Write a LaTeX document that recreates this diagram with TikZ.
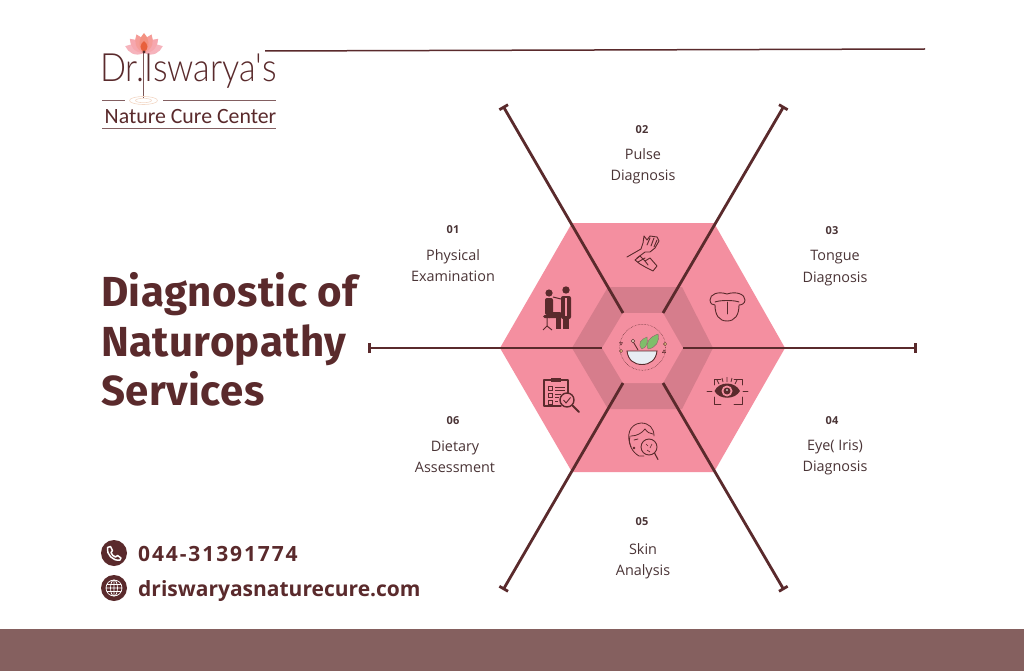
\documentclass[tikz,border=0pt]{standalone}
\usepackage{fontspec}
\usetikzlibrary{arrows.meta}
\setmainfont{Open Sans}
\newfontfamily\headfont[LetterSpace=1]{Fira Sans}
\newfontfamily\logofont{Lato Light}
\newfontfamily\logotwo{Carlito}
\newfontfamily\contfont{Open Sans}
\newfontfamily\contdig[LetterSpace=9]{Open Sans}
\definecolor{ink}{HTML}{5A2A2C}
\definecolor{hexout}{HTML}{F48FA0}
\definecolor{hexmid}{HTML}{D67D8C}
\definecolor{band}{HTML}{85605F}
\definecolor{labelc}{HTML}{4A3436}
\definecolor{pa}{HTML}{F6B3BC}
\definecolor{pb}{HTML}{F6A7AE}
\definecolor{pc}{HTML}{F59C98}
\definecolor{pd}{HTML}{F39180}
\definecolor{pe}{HTML}{E8603C}
\definecolor{rip}{HTML}{F3D9C8}
\definecolor{bowlc}{HTML}{E8EDF3}
\definecolor{ped}{HTML}{F8D8C8}
\definecolor{leaf}{HTML}{7FBE6A}
\definecolor{gold}{HTML}{F6D08A}
\tikzset{
  x=1pt,y=-1pt,
  spoke/.style={draw=ink,line width=2.8pt,{Bar[width=10pt,length=2.5pt]}-},
  lab/.style={align=center,font=\fontsize{14.4}{21.3}\selectfont,text=labelc,inner sep=0pt},
  num/.style={font=\bfseries\fontsize{11}{13}\selectfont,text=labelc,inner sep=0pt},
  head/.style={font=\headfont\bfseries\fontsize{42}{50}\selectfont,text=ink,anchor=base west,inner sep=0pt},
  contact/.style={font=\bfseries\fontsize{21}{25}\selectfont,text=ink,anchor=base west,inner sep=0pt},
  ico/.style={draw=ink,line width=0.9pt,line cap=round,line join=round},
  dot/.style={circle,fill=ink,inner sep=0pt,minimum size=26pt},
}
\begin{document}
\begin{tikzpicture}
\useasboundingbox (0,0) rectangle (1024,671);
\fill[white] (0,0) rectangle (1024,671);
\fill[band] (0,629) rectangle (1024,671);
% top rule
\draw[ink,line width=1.5pt] (265,51) -- (925,49);
% hexagons
\fill[hexout] (500,348) -- (572,223) -- (714,223) -- (785,348) -- (714,472) -- (572,472) -- cycle;
\fill[hexmid] (572,348) -- (608,287) -- (682,287) -- (713,348) -- (682,409) -- (608,409) -- cycle;
\fill[hexout] (602,348) -- (623,313) -- (663,313) -- (683,348) -- (663,383) -- (623,383) -- cycle;
% spokes
\coordinate (c1) at (602,348); \coordinate (e1) at (368,348);
\coordinate (c2) at (623,313); \coordinate (e2) at (503,106);
\coordinate (c3) at (663,313); \coordinate (e3) at (784,106);
\coordinate (c4) at (683,348); \coordinate (e4) at (917,348);
\coordinate (c5) at (663,383); \coordinate (e5) at (784,590);
\coordinate (c6) at (623,383); \coordinate (e6) at (503,590);
\foreach \i in {1,...,6} \draw[spoke] (e\i) -- (c\i);
% labels
\node[num] (n1) at (453,230) {01};
\node[lab] (l1) at (453,265.5) {Physical\\Examination};
\node[num] (n2) at (642,130) {02};
\node[lab] (l2) at (643,166.5) {Pulse\\Diagnosis};
\node[num] (n3) at (832,231) {03};
\node[lab] (l3) at (835,268) {Tongue\\Diagnosis};
\node[num] (n4) at (832,421) {04};
\node[lab] (l4) at (835,457.5) {Eye( Iris)\\Diagnosis};
\node[num] (n5) at (642,522) {05};
\node[lab] (l5) at (643,561.5) {Skin\\Analysis};
\node[num] (n6) at (453,421) {06};
\node[lab] (l6) at (455,457) {Dietary\\Assessment};
% heading
\node[head] (h1) at (101,306.5) {Diagnostic of};
\node[head] (h2) at (101,356.5) {Naturopathy};
\node[head] (h3) at (101,405.5) {Services};
% contact
\node[dot] (d1) at (114,553) {};
\node[dot] (d2) at (114,588) {};
\node[contact] (t1) at (138,561) {\contdig 044-31391774};
\node[contact] (t2) at (138,596) {\contfont driswaryasnaturecure.com};
% phone glyph
\draw[white,line width=1.5pt,line cap=round,line join=round,fill=ink] (107.5,547.5) -- (110.5,546.5) -- (112.5,550.5) -- (111,552.5) .. controls (112,555) and (113,556) .. (115.5,557) -- (117.5,555.5) -- (121,558) -- (120,560) .. controls (113,561.5) and (106,554) .. (107.5,547.5) -- cycle;
\draw[white,line width=0.7pt] (114,588) circle (8) (106,588) -- (122,588) (107,584.5) -- (121,584.5) (107,591.5) -- (121,591.5) (114,580) -- (114,596);
\draw[white,line width=0.7pt] (114,588) ellipse (3.5 and 8);
% logo
\foreach \a/\c in {-70/pa,70/pa,-45/pb,45/pb,-22/pc,22/pc,0/pd}
  \fill[\c,rotate around={\a:(144,53)}] (144,53) .. controls (137,46) and (139,38) .. (144,33) .. controls (149,38) and (151,46) .. (144,53) -- cycle;
\fill[pe] (144,52) .. controls (139,49) and (140,44) .. (144,41) .. controls (148,44) and (149,49) .. (144,52) -- cycle;
\draw[ink!80,line width=0.8pt] (143.5,52) -- (143.5,98);
\fill[ink] (144,52) circle (1.6);
\draw[rip,line width=0.6pt] (143.5,100.5) ellipse (14 and 4) (143.5,100.5) ellipse (8 and 2.2);
\node[inner sep=0pt,anchor=base west,text=ink,xscale=0.88] (logoa) at (100,82) {\logofont\fontsize{39}{40}\selectfont Dr.Iswarya's};
\draw[ink!75,line width=1pt] (102,101) -- (125,101) (163,101) -- (276,101) (102,129) -- (276,129);
\node[inner sep=0pt,anchor=base west,text=ink] (logob) at (104.5,124) {\logotwo\fontsize{21.8}{24}\selectfont Nature Cure Center};
% --- people icon
\fill[ink] (549,293) circle (3.6) (566,290) circle (3.7);
\fill[ink,rounded corners=2pt] (545,298) rectangle (553,315);
\fill[ink,rounded corners=1pt] (548,312) rectangle (561,318);
\fill[ink] (556,314) rectangle (561,329);
\fill[ink,rounded corners=1.5pt] (543,315) rectangle (551,318);
\draw[ink,line width=1pt] (547,318) -- (547,326) (543,330) -- (547,326) -- (552,330);
\draw[ink,line width=1pt] (553,297) -- (561,299);
\fill[ink,rounded corners=2pt] (561,296) rectangle (571,319);
\fill[hexout] (564.5,298) rectangle (567,316);
\fill[ink] (562.5,317) rectangle (568.5,329);
% --- hands icon
\draw[ico] (627,257) -- (641,249) -- (643,243) -- (644,236) -- (647,240) -- (650,236) -- (657,237) -- (659,241) -- (655,248) -- (650,252) -- (645,252) -- (637,258);
\draw[ico] (650,238) -- (647,245) (654,238) -- (651,246) (657,240) -- (654,247);
\draw[ico] (635,260) -- (640,256) -- (645,261) -- (650,258) -- (657,266) -- (653,271) -- (647,268) -- (640,264) -- cycle;
\draw[ico] (638,262) -- (645,258) (645,261) -- (648,265);
% --- tongue icon
\draw[ico] (710,300) .. controls (710,294) and (718,291) .. (727,294) .. controls (736,291) and (745,294) .. (745,300) .. controls (745,304) and (741,305) .. (739,305)  .. controls (739,315) and (735,321) .. (727,321) .. controls (719,321) and (715,315) .. (715,305) .. controls (713,305) and (710,304) .. (710,300) -- cycle;
\draw[ico] (715,302) .. controls (720,300) and (734,300) .. (739,302);
\draw[ico] (727,302) -- (727,314);
% --- eye icon
\draw[ico] (714,385) -- (714,379) -- (721,379) (734,379) -- (742,379) -- (742,385) (714,397) -- (714,404) -- (721,404) (734,404) -- (742,404) -- (742,397) (707,391) -- (712,391) (743,391) -- (748,391);
\fill[ink] (714.5,391) .. controls (719,381) and (735,381) .. (740,391) .. controls (735,400) and (719,400) .. (714.5,391) -- cycle;
\fill[hexout] (727,391) circle (5.5);
\fill[ink] (727,391) circle (3.5);
\fill[white] (727,390) circle (0.9);
\draw[ink,line width=0.8pt] (719,384) -- (717,380) (723,382) -- (722,378) (727,382) -- (727,377) (731,382) -- (732,378) (735,384) -- (737,380);
% --- clipboard icon
\draw[ico,line width=1.2pt] (561,406) -- (544,406) -- (544,380) -- (568,380) -- (568,393);
\fill[ink] (551,377.5) rectangle (561,382);
\draw[ink,line width=1pt] (548,386) rectangle (552,390) (548,393) rectangle (552,397) (548,400) rectangle (552,404);
\draw[ink,line width=1pt] (555,387) -- (565,387) (555,390) -- (565,390) (555,394) -- (561,394) (555,397) -- (559,397) (555,401) -- (558,401);
\draw[ink,line width=1.4pt] (567,400) circle (7);
\draw[ink,line width=0.9pt] (563.5,400) -- (566,403) -- (570.5,397.5);
\draw[ink,line width=2pt,line cap=round] (572.5,405.5) -- (579,412);
% --- face icon
\draw[ico,line width=0.8pt] (631,447) .. controls (626,436) and (629,424) .. (641,423) .. controls (649,423) and (654,428) .. (654,436);
\draw[ico,line width=0.8pt] (631,436) .. controls (637,436) and (642,433) .. (645,429) .. controls (647,432) and (650,434) .. (653,434);
\draw[ico,line width=0.8pt] (630,436) .. controls (628,444) and (632,452) .. (639,456) -- (644,456);
\draw[ico,line width=0.8pt] (634,440) -- (638,439);
\fill[ink] (634,448) circle (1.4);
\draw[ico,line width=0.9pt] (649,447) circle (8);
\draw[ink,line width=0.6pt] (646,444) -- (648,446) (652,444) -- (650,448) (647,450) -- (650,452);
\draw[ico,line width=1.1pt] (654.5,453) -- (658,459.5);
% --- bowl icon
\draw[ink,line width=0.5pt,densely dotted] (642.7,347.3) circle (23);
\draw[ink,line width=0.9pt] (638,350) -- (633,341.5);
\draw[ink,line width=0.6pt,fill=ped] (633,341) circle (1.8);
\draw[ink!70,line width=0.4pt,fill=leaf] (642,349) .. controls (637,344) and (641,339) .. (647,337) .. controls (648,343) and (647,347) .. (642,349) -- cycle;
\draw[ink!70,line width=0.4pt,fill=leaf] (648,349) .. controls (645,342) and (650,337) .. (658,334) .. controls (660,341) and (656,348) .. (648,349) -- cycle;
\draw[ink,line width=0.9pt,fill=bowlc] (627,351) .. controls (628,360) and (634,364.5) .. (642,364.5) .. controls (650,364.5) and (656,360) .. (657,351) -- cycle;
\draw[ink,line width=0.5pt,fill=gold] (621,351) circle (1.6) (665,344) circle (1.6);
\draw[ink,line width=0.5pt] (619.5,342.5) -- (622.5,342.5) -- (621,345) -- cycle (662.5,352.5) -- (665.5,352.5) -- (664,350) -- cycle;
\end{tikzpicture}
\end{document}
